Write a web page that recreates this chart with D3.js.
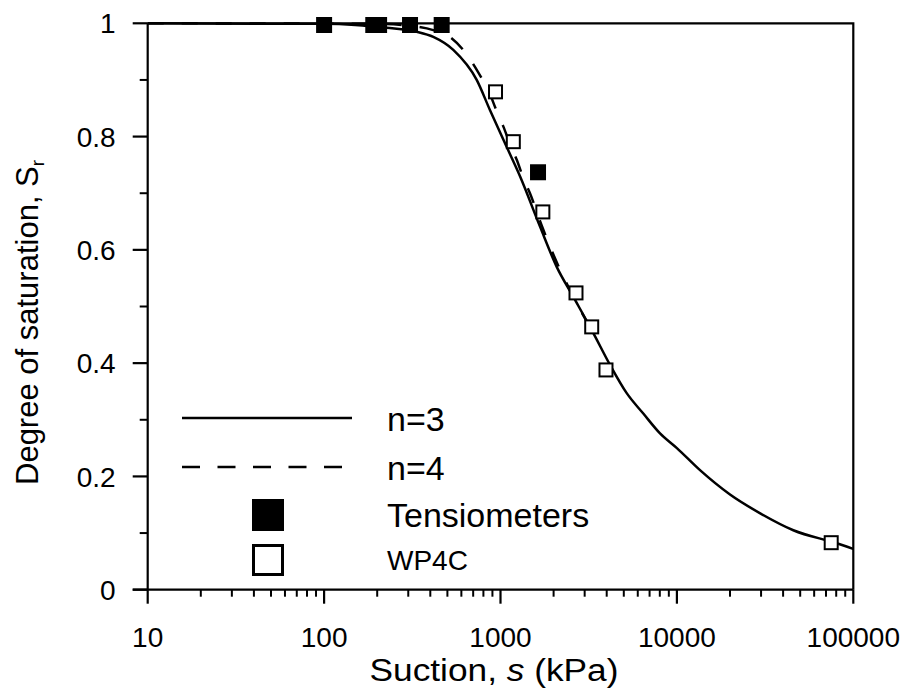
<!DOCTYPE html>
<html>
<head>
<meta charset="utf-8">
<script src="https://cdn.jsdelivr.net/npm/d3@7/dist/d3.min.js"></script>
<style>
  html, body { margin: 0; padding: 0; background: #fff; }
  svg { display: block; font-family: "Liberation Sans", Arial, sans-serif; }
</style>
</head>
<body>
<svg id="chart" width="908" height="695"></svg>
<script>
// Fitted retention curves (suction in kPa, degree of saturation)
const curveN3 = [
  [10, 1.0], [100, 0.999], [150, 0.997], [226, 0.992], [335, 0.985], [416, 0.976],
  [540, 0.953], [733, 0.900], [871, 0.847], [1083, 0.782], [1290, 0.730],
  [1675, 0.641], [2083, 0.570], [2589, 0.517], [3360, 0.453], [4176, 0.397],
  [5193, 0.347], [6450, 0.311], [8022, 0.276], [10000, 0.250], [13520, 0.211],
  [20000, 0.168], [30000, 0.134], [45710, 0.105], [80540, 0.082], [100000, 0.072]
];
const curveN4 = [
  [10, 1.0], [200, 0.999], [300, 0.996], [416, 0.988], [506, 0.978], [603, 0.956],
  [687, 0.932], [782, 0.903], [853, 0.882], [943, 0.848], [1037, 0.818],
  [1132, 0.787], [1236, 0.759], [1347, 0.727], [1469, 0.700], [1712, 0.643],
  [2083, 0.578], [2589, 0.517], [3360, 0.453]
];
// Measured points
const tensiometers = [
  [100, 0.997], [190, 0.997], [205, 0.997], [307, 0.997], [464, 0.997], [1632, 0.737]
];
const wp4c = [
  [937, 0.879], [1182, 0.791], [1738, 0.667], [2679, 0.524],
  [3289, 0.464], [3963, 0.388], [74950, 0.083]
];
const xTicks = [10, 100, 1000, 10000, 100000];
const yTicks = [0, 0.2, 0.4, 0.6, 0.8, 1];
const yMinor = [0.1, 0.3, 0.5, 0.7, 0.9];
const legendItems = ["n=3", "n=4", "Tensiometers", "WP4C"];

const svg = d3.select("#chart");
const plotL = 147.7, plotR = 853.3, plotT = 23.3, plotB = 589.7;

const x = d3.scaleLog().domain([10, 100000]).range([plotL, plotR]);
const y = d3.scaleLinear().domain([0, 1]).range([plotB, plotT]);

const ink = "#000";

// Frame: top and right borders
svg.append("path")
  .attr("d", `M${plotL},${plotT}H${plotR}V${plotB}`)
  .attr("fill", "none").attr("stroke", ink).attr("stroke-width", 2.2);

// X axis with major and minor ticks
const minorX = [];
for (let d = 10; d < 100000; d *= 10) for (let k = 2; k <= 9; k++) minorX.push(d * k);

const xAxis = svg.append("g").attr("transform", `translate(0,${plotB})`);
xAxis.append("line").attr("x1", plotL - 15).attr("x2", plotR)
  .attr("stroke", ink).attr("stroke-width", 2.2);
xAxis.selectAll("line.minor").data(minorX).join("line").attr("class", "minor")
  .attr("x1", d => x(d)).attr("x2", d => x(d)).attr("y1", 0).attr("y2", 7)
  .attr("stroke", ink).attr("stroke-width", 2);
xAxis.selectAll("line.major").data(xTicks).join("line").attr("class", "major")
  .attr("x1", d => x(d)).attr("x2", d => x(d)).attr("y1", 0).attr("y2", 14)
  .attr("stroke", ink).attr("stroke-width", 2.2);
xAxis.selectAll("text").data(xTicks).join("text")
  .attr("x", d => x(d)).attr("y", 57.3)
  .attr("text-anchor", "middle").attr("font-size", 28).attr("fill", ink)
  .text(d => String(d));

// Y axis with major and minor ticks
const yAxis = svg.append("g").attr("transform", `translate(${plotL},0)`);
yAxis.append("line").attr("y1", plotT).attr("y2", plotB)
  .attr("stroke", ink).attr("stroke-width", 2.2);
yAxis.selectAll("line.minor").data(yMinor).join("line").attr("class", "minor")
  .attr("x1", -8).attr("x2", 0).attr("y1", d => y(d)).attr("y2", d => y(d))
  .attr("stroke", ink).attr("stroke-width", 2);
yAxis.selectAll("line.major").data(yTicks).join("line").attr("class", "major")
  .attr("x1", -15).attr("x2", 0).attr("y1", d => y(d)).attr("y2", d => y(d))
  .attr("stroke", ink).attr("stroke-width", 2.2);
yAxis.selectAll("text").data(yTicks).join("text")
  .attr("x", -32).attr("y", d => y(d)).attr("dy", "0.36em")
  .attr("text-anchor", "end").attr("font-size", 28).attr("fill", ink)
  .text(d => d === 0 || d === 1 ? String(d) : d.toFixed(1));

// Axis titles
const xTitle = svg.append("text")
  .attr("transform", "translate(494,680.5) scale(1.12,1)")
  .attr("text-anchor", "middle").attr("font-size", 31.5).attr("fill", ink);
xTitle.append("tspan").text("Suction, ");
xTitle.append("tspan").attr("font-style", "italic").text("s");
xTitle.append("tspan").text(" (kPa)");

const yTitle = svg.append("text")
  .attr("transform", "translate(38,485) rotate(-90)")
  .attr("text-anchor", "start").attr("font-size", 31).attr("fill", ink);
yTitle.append("tspan").text("Degree of saturation, S");
yTitle.append("tspan").attr("font-size", 19).attr("dy", 6).text("r");

// Curves
const line = d3.line().x(d => x(d[0])).y(d => y(d[1])).curve(d3.curveMonotoneX);
svg.append("path").datum(curveN4).attr("d", line)
  .attr("fill", "none").attr("stroke", ink).attr("stroke-width", 2.5)
  .attr("stroke-dasharray", "16,18");
svg.append("path").datum(curveN3).attr("d", line)
  .attr("fill", "none").attr("stroke", ink).attr("stroke-width", 2.5);

// Markers
svg.selectAll("rect.wp").data(wp4c).join("rect").attr("class", "wp")
  .attr("x", d => x(d[0]) - 6.5).attr("y", d => y(d[1]) - 6.5)
  .attr("width", 13).attr("height", 13)
  .attr("fill", "#fff").attr("stroke", ink).attr("stroke-width", 2);
svg.selectAll("rect.ts").data(tensiometers).join("rect").attr("class", "ts")
  .attr("x", d => x(d[0]) - 8).attr("y", d => y(d[1]) - 8)
  .attr("width", 16).attr("height", 16).attr("fill", ink);

// Legend
const lg = svg.append("g");
lg.append("line").attr("x1", 182).attr("x2", 352).attr("y1", 418).attr("y2", 418)
  .attr("stroke", ink).attr("stroke-width", 2.5);
lg.append("line").attr("x1", 182).attr("x2", 344).attr("y1", 467).attr("y2", 467)
  .attr("stroke", ink).attr("stroke-width", 2.5).attr("stroke-dasharray", "18,17.5");
lg.append("rect").attr("x", 252).attr("y", 499).attr("width", 32).attr("height", 32).attr("fill", ink);
lg.append("rect").attr("x", 253.5).attr("y", 545.5).attr("width", 29).attr("height", 29)
  .attr("fill", "#fff").attr("stroke", ink).attr("stroke-width", 3);
const lgY = [431, 480, 527, 570];
const lgSize = [34, 34, 34, 28];
lg.selectAll("text").data(legendItems).join("text")
  .attr("x", 387).attr("y", (d, i) => lgY[i])
  .attr("font-size", (d, i) => lgSize[i]).attr("fill", ink)
  .text(d => d);
</script>
</body>
</html>
